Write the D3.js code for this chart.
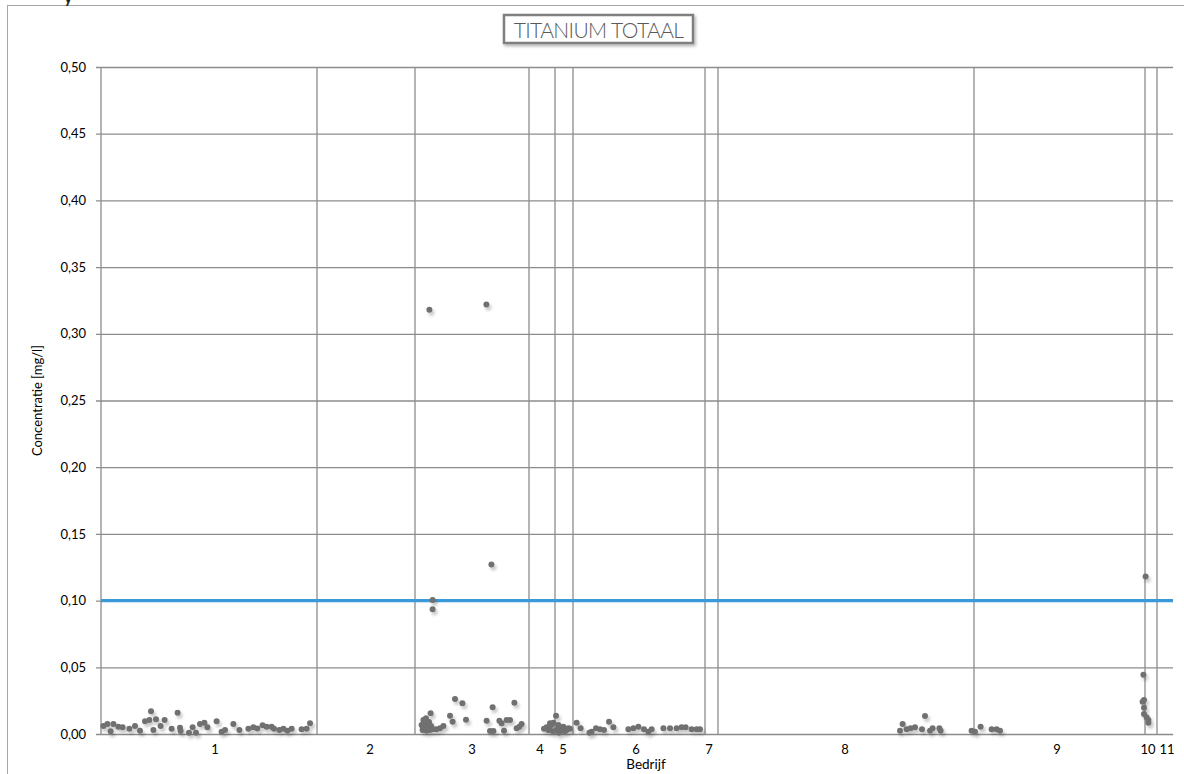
<!DOCTYPE html>
<html><head><meta charset="utf-8">
<script src="https://cdn.jsdelivr.net/npm/d3@7"></script>
<style>
body{margin:0;background:#fff;}
svg{display:block;font-family:Lato,"Open Sans",sans-serif;}
</style></head><body>
<svg id="c" width="1184" height="774"></svg>
<script>
// ---- data ----
const bedrijven = ["1","2","3","4","5","6","7","8","9","10","11"];
// category boundaries (sample index) – first and last are the axis extremes
const grenzen = [0,108,157,214,227,236,302,308.5,436.5,522,528,536];
// label positions (sample index) of the category names
const labelPos = [57,134.5,185.5,219.5,231,267.5,304,372,478,523.5,533];
const yTicks = [0,0.05,0.10,0.15,0.20,0.25,0.30,0.35,0.40,0.45,0.50];
const norm = 0.10;
// sample index
const monster = [
 1.2,3.2,4.8,6.2,8.7,10.8,14.2,17,19.5,22,24.2,25,26.2,27.5,29.8,31.8,35.3,38.3,39.5,39.8,44,45.8,47.5,49.5,51.7,53.2,57.8,60.3,62,66.2,69.2,73.7,76.2,78.2,80.8,82.8,85.3,86.5,89.2,91.2,93.2,95.3,100.3,102.8,104.5,
 160.3,160.8,161.2,161.5,162,162.5,162.8,163.7,164.2,164.5,164.8,165.8,165.8,166.2,167.8,169.5,171.2,174.5,175.8,177,180.7,182.5,192.7,192.8,194.5,195.2,195.8,196.2,199.2,200.3,201.5,202.8,204.5,206.7,207.8,209.2,210.3,161,163,165,164,
 221.5,222.8,223.7,224.5,224.5,225.3,226,226.2,227.5,227.8,228.7,229,229.5,230.3,231.2,232,232.8,233.7,234.5,
 237.8,239.8,244.2,245.3,247.5,249.5,251.5,254,256.2,263.7,266.2,268.7,271.5,273.7,275.3,281.2,284.5,287.8,290.3,292.3,295.3,297.8,299.5,
 399.5,400.8,402.8,404.8,407,410.5,412,414.5,415.8,419.2,419.8,435.3,
 437,439.8,445.3,447.8,449.5,
 521.2,520.8,521.5,521.5,521.5,522.3,522.8,523.7,523.7
];
// concentration [mg/l]
const concentratie = [
 0.006,0.0075,0.002,0.0075,0.0055,0.005,0.004,0.006,0.0025,0.0095,0.0105,0.017,0.003,0.011,0.006,0.0105,0.004,0.016,0.0047,0.0022,0.001,0.005,0.001,0.0075,0.0085,0.005,0.0095,0.0017,0.003,0.0075,0.003,0.004,0.005,0.0042,0.0065,0.0055,0.0055,0.004,0.003,0.004,0.0025,0.004,0.0035,0.004,0.008,
 0.0067,0.003,0.0105,0.0085,0.0043,0.0118,0.0025,0.0055,0.318,0.003,0.0155,0.1005,0.0935,0.0035,0.0035,0.0043,0.006,0.0137,0.0092,0.0262,0.023,0.0107,0.322,0.01,0.0022,0.127,0.02,0.0022,0.01,0.008,0.0025,0.0105,0.0105,0.0235,0.0043,0.0055,0.0075,0.005,0.007,0.006,0.009,
 0.004,0.005,0.003,0.003,0.008,0.0067,0.002,0.0085,0.0137,0.003,0.0067,0.001,0.0043,0.0025,0.0055,0.002,0.003,0.0043,0.004,
 0.0085,0.0043,0.001,0.0017,0.0043,0.0035,0.003,0.0092,0.005,0.0035,0.0043,0.0055,0.0035,0.0017,0.0035,0.0043,0.0043,0.0043,0.005,0.005,0.0035,0.0035,0.0035,
 0.0025,0.0075,0.0035,0.0043,0.005,0.0035,0.0135,0.0025,0.0043,0.0043,0.0025,0.0025,
 0.0017,0.0055,0.0035,0.0035,0.0025,
 0.0445,0.0242,0.0255,0.0197,0.015,0.118,0.0125,0.0105,0.0085
];

// ---- layout ----
const L=101, R=1173, T=67, B=734;
const svg = d3.select("#c");
const x = d3.scaleLinear().domain([0,536]).range([L,R]);
const y = d3.scaleLinear().domain([0,0.5]).range([B,T]);
const grid="#8c8c8c";

const defs = svg.append("defs");
const f = defs.append("filter").attr("id","sh").attr("x","-50%").attr("y","-50%").attr("width","250%").attr("height","250%");
f.append("feDropShadow").attr("dx",2).attr("dy",3).attr("stdDeviation",1.8).attr("flood-color","#000").attr("flood-opacity",0.22);
const f2 = defs.append("filter").attr("id","sh2").attr("x","-20%").attr("y","-50%").attr("width","140%").attr("height","200%");
f2.append("feDropShadow").attr("dx",1.5).attr("dy",2).attr("stdDeviation",1.5).attr("flood-color","#000").attr("flood-opacity",0.3);

// outer chart border
svg.append("rect").attr("x",7.5).attr("y",5.5).attr("width",1200).attr("height",800)
  .attr("fill","none").attr("stroke","#a6a6a6").attr("stroke-width",1);
svg.append("text").attr("x",64).attr("y",3).attr("font-size",16).attr("font-weight","bold").attr("fill","#222").text("y");

// horizontal gridlines + y axis
const yAxis = d3.axisLeft(y).tickValues(yTicks).tickSize(-(R-L)).tickPadding(15)
  .tickFormat(d=>d3.format(".2f")(d).replace(".",","));
const gy = svg.append("g").attr("transform",`translate(${L},0)`).call(yAxis);
gy.select(".domain").remove();
gy.selectAll(".tick line").attr("stroke",grid).attr("stroke-width",1.3).attr("x1",-5);
gy.selectAll(".tick text").attr("font-size",13).attr("fill","#000").attr("font-family","Lato,sans-serif");

// vertical lines: axis + category boundaries
svg.append("g").selectAll("line").data(grenzen.slice(0,-1)).join("line")
  .attr("x1",d=>x(d)).attr("x2",d=>x(d)).attr("y1",T).attr("y2",B)
  .attr("stroke",grid).attr("stroke-width",1.3);

// category labels
svg.append("g").selectAll("text").data(bedrijven).join("text")
  .attr("x",(d,i)=>x(labelPos[i])).attr("y",754)
  .attr("text-anchor","middle").attr("font-size",13).attr("fill","#000").text(d=>d);

// norm line
svg.append("line").attr("x1",L).attr("x2",R).attr("y1",y(norm)).attr("y2",y(norm))
  .attr("stroke","#3a9ad9").attr("stroke-width",3.2);

// points
svg.append("g").attr("filter","url(#sh)").selectAll("circle").data(monster).join("circle")
  .attr("cx",d=>x(d)).attr("cy",(d,i)=>y(concentratie[i])).attr("r",3)
  .attr("fill","#707070");

// axis titles
svg.append("text").attr("transform",`translate(42,${(T+B)/2}) rotate(-90)`)
  .attr("text-anchor","middle").attr("font-size",13).attr("fill","#000").text("Concentratie [mg/l]");
svg.append("text").attr("x",646).attr("y",769).attr("text-anchor","middle")
  .attr("font-size",13.5).attr("fill","#000").text("Bedrijf");

// title box
svg.append("rect").attr("x",504).attr("y",15).attr("width",189).attr("height",28)
  .attr("fill","#fff").attr("stroke","#7f7f7f").attr("stroke-width",2.5).attr("filter","url(#sh2)");
svg.append("text").attr("x",598.5).attr("y",37.5).attr("text-anchor","middle")
  .attr("font-size",21).attr("font-weight",300).attr("fill","#595959").attr("letter-spacing",-0.6).text("TITANIUM TOTAAL");
</script></body></html>
